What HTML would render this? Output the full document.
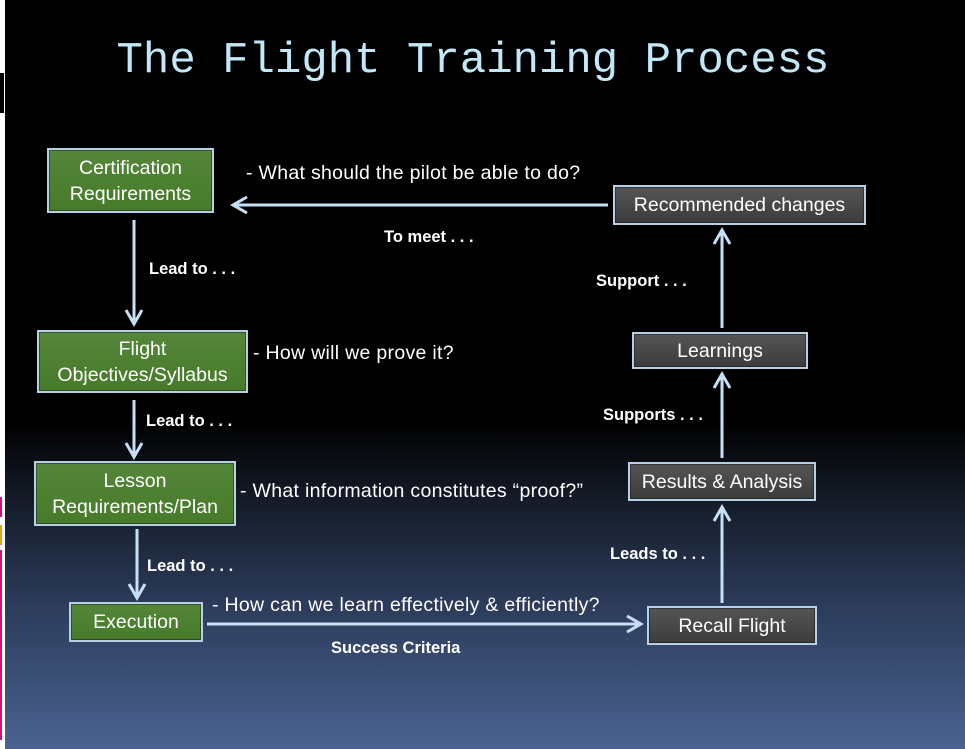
<!DOCTYPE html>
<html><head><meta charset="utf-8"><style>
body{margin:0;width:965px;height:749px;overflow:hidden;position:relative;font-family:"Liberation Sans",sans-serif;
background:linear-gradient(to bottom,#000 0px,#000 420px,#151b28 500px,#2b3a58 600px,#4a6391 749px);}
.strip{position:absolute;left:0;top:0;width:5px;height:749px;background:#fff}
.box{position:absolute;box-sizing:border-box;border:2px solid #b8d0e6;color:#fff;text-align:center;display:flex;align-items:center;justify-content:center;font-size:19.5px;line-height:26px;box-shadow:inset 0 0 0 1px rgba(0,0,0,.35);white-space:nowrap}
.g{background:linear-gradient(#55863a,#477a2a)}
.k{background:linear-gradient(#555,#3c3c3c)}
.t{position:absolute;color:#fff;font-size:19.5px;white-space:nowrap;letter-spacing:0.3px}
.b{position:absolute;color:#fff;font-size:16.5px;font-weight:bold;white-space:nowrap}
h1{position:absolute;margin:0;left:0;width:946px;top:36px;text-align:center;font-family:"Liberation Mono",monospace;font-weight:normal;font-size:44px;color:#c2e8f8}
</style></head><body>
<div class="strip"></div>
<div style="position:absolute;left:0;top:73px;width:4px;height:40px;background:#000"></div>
<div style="position:absolute;left:0;top:497px;width:2px;height:20px;background:#d4107a"></div>
<div style="position:absolute;left:0;top:525px;width:2px;height:20px;background:#e8a020"></div>
<div style="position:absolute;left:0;top:550px;width:2px;height:190px;background:#d4107a"></div>
<h1>The Flight Training Process</h1>
<svg width="965" height="749" style="position:absolute;left:0;top:0">
<g stroke="#c6e0f5" stroke-width="3" fill="none">
<line x1="134" y1="220" x2="134" y2="323"/><polyline points="126,310 134,324 142,310"/>
<line x1="134" y1="400" x2="134" y2="456"/><polyline points="126,443 134,457 142,443"/>
<line x1="137" y1="529" x2="137" y2="597"/><polyline points="129,584 137,598 145,584"/>
<line x1="207" y1="624" x2="640" y2="624"/><polyline points="627,616 641,624 627,632"/>
<line x1="722" y1="603" x2="722" y2="508"/><polyline points="714,521 722,507 730,521"/>
<line x1="722" y1="458" x2="722" y2="375"/><polyline points="714,388 722,374 730,388"/>
<line x1="722" y1="328" x2="722" y2="231"/><polyline points="714,244 722,230 730,244"/>
<line x1="608" y1="205" x2="234" y2="205"/><polyline points="247,197 233,205 247,213"/>
</g></svg>
<div class="box g" style="left:47px;top:148px;width:167px;height:65px">Certification<br>Requirements</div>
<div class="box g" style="left:37px;top:330px;width:211px;height:63px">Flight<br>Objectives/Syllabus</div>
<div class="box g" style="left:34px;top:461px;width:202px;height:65px">Lesson<br>Requirements/Plan</div>
<div class="box g" style="left:69px;top:602px;width:134px;height:40px">Execution</div>
<div class="box k" style="left:613px;top:185px;width:253px;height:40px">Recommended changes</div>
<div class="box k" style="left:632px;top:332px;width:176px;height:37px">Learnings</div>
<div class="box k" style="left:628px;top:462px;width:188px;height:39px">Results &amp; Analysis</div>
<div class="box k" style="left:647px;top:606px;width:170px;height:39px">Recall Flight</div>
<div class="t" style="left:246px;top:162px">- What should the pilot be able to do?</div>
<div class="t" style="left:253px;top:342px">- How will we prove it?</div>
<div class="t" style="left:240px;top:480px">- What information constitutes “proof?”</div>
<div class="t" style="left:212px;top:594px">- How can we learn effectively &amp; efficiently?</div>
<div class="b" style="left:384px;top:228px">To meet . . .</div>
<div class="b" style="left:149px;top:260px">Lead to . . .</div>
<div class="b" style="left:146px;top:412px">Lead to . . .</div>
<div class="b" style="left:147px;top:557px">Lead to . . .</div>
<div class="b" style="left:331px;top:639px">Success Criteria</div>
<div class="b" style="left:596px;top:272px">Support . . .</div>
<div class="b" style="left:603px;top:406px">Supports . . .</div>
<div class="b" style="left:610px;top:545px">Leads to . . .</div>
</body></html>
